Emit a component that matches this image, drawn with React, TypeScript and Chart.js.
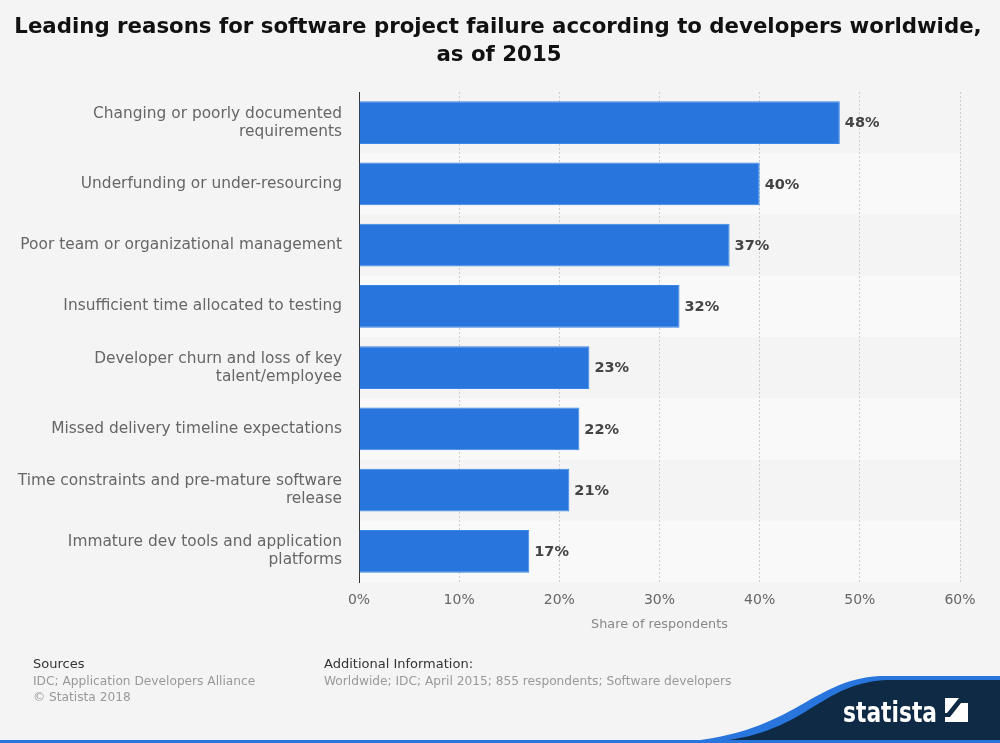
import React, { useEffect, useRef } from 'react';
import { Chart, registerables } from 'chart.js';

Chart.register(...registerables);

const categories: string[][] = [
  ['Changing or poorly documented', 'requirements'],
  ['Underfunding or under-resourcing'],
  ['Poor team or organizational management'],
  ['Insufficient time allocated to testing'],
  ['Developer churn and loss of key', 'talent/employee'],
  ['Missed delivery timeline expectations'],
  ['Time constraints and pre-mature software', 'release'],
  ['Immature dev tools and application', 'platforms'],
];
const shares: number[] = [48, 40, 37, 32, 23, 22, 21, 17];
const xTickValues: number[] = [0, 10, 20, 30, 40, 50, 60];
const titleLines: string[] = [
  'Leading reasons for software project failure according to developers worldwide,',
  'as of 2015',
];
const axisTitle = 'Share of respondents';
const sourcesHead = 'Sources';
const sourcesLines: string[] = ['IDC; Application Developers Alliance', '© Statista 2018'];
const infoHead = 'Additional Information:';
const infoLines: string[] = ['Worldwide; IDC; April 2015; 855 respondents; Software developers'];

const FONT = '"DejaVu Sans", Arial, sans-serif';
const BG = '#f4f4f4';
const BAR = '#2876dd';
const NAVY = '#0e2a44';

const decorPlugin = {
  id: 'decor',
  beforeDraw(chart: any) {
    const { ctx, chartArea, scales } = chart;
    ctx.save();
    ctx.fillStyle = BG;
    ctx.fillRect(0, 0, chart.width, chart.height);
    const y = scales.y;
    const band = (chartArea.bottom - chartArea.top) / categories.length;
    ctx.fillStyle = '#f9f9f9';
    categories.forEach((_, i) => {
      if (i % 2 === 1) {
        const c = y.getPixelForValue(i);
        ctx.fillRect(chartArea.left, c - band / 2, chartArea.right - chartArea.left, band);
      }
    });
    ctx.restore();
  },
  afterDatasetsDraw(chart: any) {
    const { ctx } = chart;
    const meta = chart.getDatasetMeta(0);
    ctx.save();
    ctx.font = `bold 14.5px ${FONT}`;
    ctx.fillStyle = '#444444';
    ctx.textBaseline = 'middle';
    ctx.textAlign = 'left';
    meta.data.forEach((bar: any, i: number) => {
      ctx.fillText(`${shares[i]}%`, bar.x + 5, bar.y + 1);
    });
    ctx.restore();
  },
  afterDraw(chart: any) {
    const { ctx } = chart;
    ctx.save();
    // title
    ctx.fillStyle = '#111111';
    ctx.font = `bold 21.3px ${FONT}`;
    ctx.textAlign = 'center';
    ctx.textBaseline = 'middle';
    ctx.fillText(titleLines[0], 498, 27);
    ctx.fillText(titleLines[1], 499, 55);

    // footer
    ctx.textAlign = 'left';
    ctx.font = `13px ${FONT}`;
    ctx.fillStyle = '#333333';
    ctx.fillText(sourcesHead, 33, 665);
    ctx.fillText(infoHead, 324, 665);
    ctx.font = `12.2px ${FONT}`;
    ctx.fillStyle = '#999999';
    sourcesLines.forEach((t, i) => ctx.fillText(t, 33, 682 + i * 16));
    infoLines.forEach((t, i) => ctx.fillText(t, 324, 682 + i * 16));

    // logo band
    ctx.fillStyle = BAR;
    ctx.beginPath();
    ctx.moveTo(670, 743);
    ctx.bezierCurveTo(795, 736, 808, 680, 880, 676);
    ctx.lineTo(1000, 676);
    ctx.lineTo(1000, 743);
    ctx.closePath();
    ctx.fill();
    ctx.fillStyle = NAVY;
    ctx.beginPath();
    ctx.moveTo(695, 743);
    ctx.bezierCurveTo(806, 740, 814, 684, 886, 680);
    ctx.lineTo(1000, 680);
    ctx.lineTo(1000, 743);
    ctx.closePath();
    ctx.fill();

    // logo text
    ctx.fillStyle = '#ffffff';
    ctx.font = `bold 28px "DejaVu Sans Condensed", ${FONT}`;
    ctx.textBaseline = 'alphabetic';
    const w = ctx.measureText('statista').width;
    ctx.save();
    ctx.translate(843, 722);
    ctx.scale(94 / w, 1);
    ctx.fillText('statista', 0, 0);
    ctx.restore();
    // logo icon
    ctx.fillStyle = '#ffffff';
    ctx.fillRect(945, 698, 23, 24);
    ctx.fillStyle = NAVY;
    ctx.beginPath();
    ctx.moveTo(945, 717);
    ctx.lineTo(950, 717);
    ctx.lineTo(961, 703);
    ctx.lineTo(968, 703);
    ctx.lineTo(968, 698);
    ctx.lineTo(959, 698);
    ctx.lineTo(947, 713);
    ctx.lineTo(945, 713);
    ctx.closePath();
    ctx.fill();

    // bottom line
    ctx.fillStyle = BAR;
    ctx.fillRect(0, 740, 1000, 3);
    ctx.restore();
  },
};

export default function App() {
  const ref = useRef<HTMLCanvasElement | null>(null);
  useEffect(() => {
    document.body.style.margin = '0';
    document.body.style.background = BG;
    if (!ref.current) return;
    const chart = new Chart(ref.current, {
      type: 'bar',
      data: {
        labels: categories,
        datasets: [
          {
            data: shares,
            backgroundColor: BAR,
            borderColor: '#3a86e6',
            borderWidth: 1,
            barPercentage: 0.7,
            categoryPercentage: 1,
          },
        ],
      },
      options: {
        indexAxis: 'y',
        responsive: false,
        animation: false,
        devicePixelRatio: 1,
        layout: { padding: { left: 0, right: 40, top: 92, bottom: 101 } },
        plugins: {
          legend: { display: false },
          title: { display: false },
          tooltip: { enabled: false },
        },
        scales: {
          x: {
            type: 'linear',
            min: 0,
            max: 60,
            afterBuildTicks(scale: any) {
              scale.ticks = xTickValues.map((v) => ({ value: v }));
            },
            afterFit(scale: any) {
              scale.height = 60;
            },
            ticks: {
              callback: (v: any) => `${v}%`,
              color: '#666666',
              font: { family: FONT, size: 14 },
              padding: 10,
              maxRotation: 0,
            },
            grid: { color: '#cccccc', lineWidth: 1, drawTicks: false },
            border: { display: false, dash: [2, 2] },
            title: {
              display: true,
              text: axisTitle,
              color: '#888888',
              font: { family: FONT, size: 12.8 },
              padding: { top: 0, bottom: 10 },
            },
          },
          y: {
            afterFit(scale: any) {
              scale.width = 359;
            },
            ticks: {
              color: '#666666',
              font: { family: FONT, size: 15.4, lineHeight: 1.17 },
              padding: 17,
              autoSkip: false,
            },
            grid: { display: false, drawTicks: false },
            border: { display: true, color: '#333333', width: 1 },
          },
        },
      },
      plugins: [decorPlugin],
    } as any);
    return () => chart.destroy();
  }, []);
  return <canvas ref={ref} width={1000} height={743} style={{ display: 'block' }} />;
}
